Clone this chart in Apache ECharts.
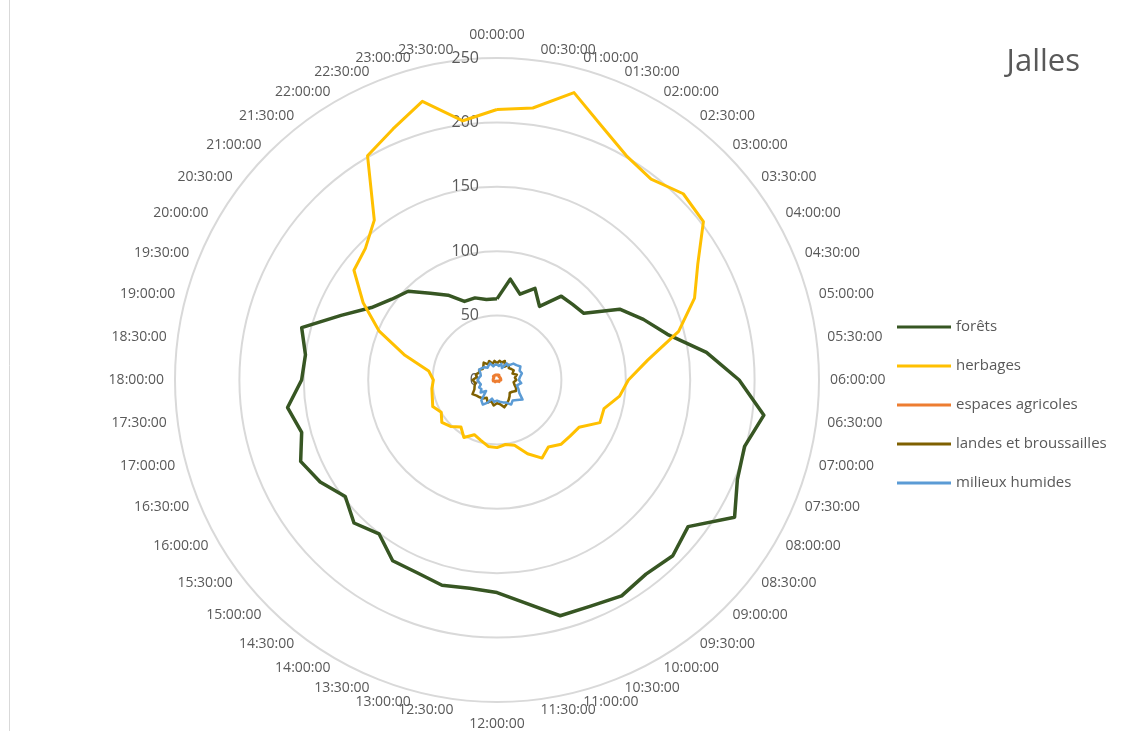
<!DOCTYPE html>
<html>
<head>
<meta charset="utf-8">
<title>Jalles</title>
<script src="https://cdn.jsdelivr.net/npm/echarts@6/dist/echarts.min.js"></script>
<style>
  html, body { margin: 0; padding: 0; background: #ffffff; }
  #main { width: 1135px; height: 731px; }
</style>
</head>
<body>
<div id="main"></div>
<script>
// heures (axes du radar), sens horaire depuis le haut
const heures = [
  '00:00:00', '00:30:00', '01:00:00', '01:30:00', '02:00:00', '02:30:00',
  '03:00:00', '03:30:00', '04:00:00', '04:30:00', '05:00:00', '05:30:00',
  '06:00:00', '06:30:00', '07:00:00', '07:30:00', '08:00:00', '08:30:00',
  '09:00:00', '09:30:00', '10:00:00', '10:30:00', '11:00:00', '11:30:00',
  '12:00:00', '12:30:00', '13:00:00', '13:30:00', '14:00:00', '14:30:00',
  '15:00:00', '15:30:00', '16:00:00', '16:30:00', '17:00:00', '17:30:00',
  '18:00:00', '18:30:00', '19:00:00', '19:30:00', '20:00:00', '20:30:00',
  '21:00:00', '21:30:00', '22:00:00', '22:30:00', '23:00:00', '23:30:00'
];

const forets = [
  63, 79, 69, 77, 66, 82, 83, 85, 110, 123, 137, 164,
  188, 209, 199, 202, 213, 187, 193, 190, 193.5, 190, 189.5, 175,
  165, 163, 165, 162, 162, 150.5, 157, 148.5, 158.5, 165, 157, 164,
  151.7, 150, 157, 131, 112.5, 103, 97.5, 85, 76, 66, 66, 63
];
const herbages = [
  210, 213, 231, 213, 201, 196.5, 204.5, 202, 180, 166, 146, 118,
  102, 96, 86, 86.5, 73.5, 71.5, 70.5, 65.5, 70, 62, 52.5, 50.5,
  52.5, 52, 48.5, 46, 51.5, 46, 51, 54, 50, 54, 52, 51,
  49.4, 53.5, 74, 99, 120, 140, 144.5, 156.5, 201, 211, 224, 203
];
const espacesAgricoles = [
  4, 4, 4, 4, 3, 3, 3, 3, 3, 3, 3, 3,
  3, 2, 2, 2, 2, 2, 1, 1, 1, 1, 1, 1,
  1, 1, 1, 1, 1, 1, 2, 2, 2, 2, 3, 3,
  3, 3, 3, 3, 3, 3, 4, 4, 4, 4, 4, 4
];
const landes = [
  13, 15, 14, 16, 12, 15, 13, 14, 15, 13, 16, 14,
  15, 13, 14, 16, 17, 15, 14, 16, 18, 20, 22, 19,
  18, 20, 17, 19, 16, 18, 19, 20, 22, 19, 18, 17,
  19, 16, 17, 15, 16, 14, 15, 17, 14, 16, 13, 15
];
const milieuxHumides = [
  12, 11, 13, 10, 15, 14, 18, 19, 21, 19, 20, 18,
  17, 19, 16, 18, 20, 25, 22, 20, 22, 19, 18, 17,
  16, 17, 15, 19, 22, 20, 12, 16, 14, 15, 13, 14,
  15, 14, 13, 14, 16, 15, 14, 12, 13, 14, 11, 12
];

const series = [
  { name: 'forêts', values: forets, color: '#375623', width: 3.5 },
  { name: 'herbages', values: herbages, color: '#FFC000', width: 3 },
  { name: 'espaces agricoles', values: espacesAgricoles, color: '#ED7D31', width: 3 },
  { name: 'landes et broussailles', values: landes, color: '#7F6000', width: 2.5 },
  { name: 'milieux humides', values: milieuxHumides, color: '#5B9BD5', width: 2.5 }
];

// le radar d'echarts tourne dans le sens antihoraire : on inverse l'ordre
const ordre = heures.map((h, i) => (heures.length - i) % heures.length);
const police = '"Open Sans", sans-serif';

const chart = echarts.init(document.getElementById('main'), null, { renderer: 'canvas' });

const option = {
  backgroundColor: '#ffffff',
  animation: false,
  title: {
    text: 'Jalles',
    right: 50,
    top: 42,
    textStyle: { fontFamily: police, fontSize: 31, fontWeight: 'normal', color: '#595959' }
  },
  legend: {
    orient: 'vertical',
    left: 892,
    top: 312,
    icon: 'rect',
    itemWidth: 54,
    itemHeight: 3,
    itemGap: 19,
    textStyle: { fontFamily: police, fontSize: 15, color: '#595959', lineHeight: 20 },
    data: series.map(s => s.name)
  },
  radar: {
    center: [497, 380],
    radius: 322,
    startAngle: 90,
    shape: 'circle',
    splitNumber: 5,
    nameGap: 11,
    axisName: { fontFamily: police, fontSize: 14, color: '#595959' },
    axisLine: { show: false },
    axisTick: { show: false },
    axisLabel: { show: false, fontFamily: police, fontSize: 16, color: '#595959', margin: 18 },
    splitLine: { lineStyle: { color: '#d9d9d9', width: 2 } },
    splitArea: { show: false },
    indicator: ordre.map((i, k) => {
      const ind = { name: heures[i], min: 0, max: 250 };
      if (k === 0) {
        ind.axisLabel = { show: true };
        ind.nameGap = 16;
      }
      if (i === 24) ind.nameGap = 15;
      return ind;
    })
  },
  series: [{
    type: 'radar',
    symbol: 'none',
    data: series.map(s => ({
      name: s.name,
      value: ordre.map(i => s.values[i]),
      itemStyle: { color: s.color },
      lineStyle: { color: s.color, width: s.width }
    }))
  }],
  graphic: [{
    type: 'line',
    shape: { x1: 9.5, y1: 0, x2: 9.5, y2: 731 },
    style: { stroke: '#d9d9d9', lineWidth: 1 }
  }]
};

chart.setOption(option);
</script>
</body>
</html>
